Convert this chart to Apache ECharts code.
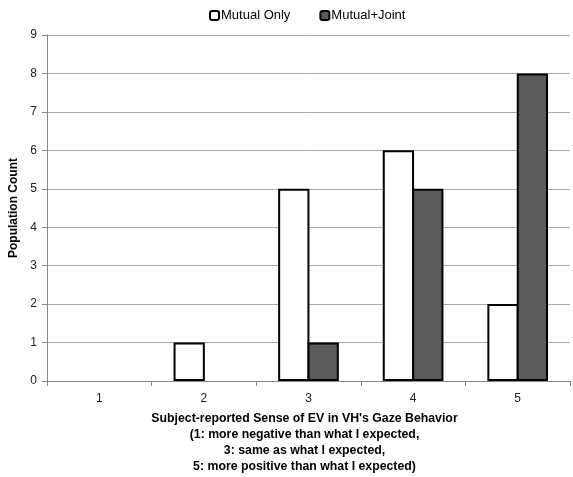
<!DOCTYPE html>
<html><head><meta charset="utf-8">
<script src="https://cdn.jsdelivr.net/npm/echarts@6/dist/echarts.min.js"></script>
<style>html,body{margin:0;padding:0;background:#fff}#c{width:573px;height:477px}</style>
</head><body><div id="c"></div>
<script>
const categories = ['1','2','3','4','5'];
const mutualOnly = [0, 1, 5, 6, 2];
const mutualJoint = [0, 0, 1, 5, 8];
const seriesNames = ['Mutual Only', 'Mutual+Joint'];
const xTitle = "Subject-reported Sense of EV in VH's Gaze Behavior\n(1: more negative than what I expected,\n3: same as what I expected,\n5: more positive than what I expected)";
const yTitle = 'Population Count';

const chart = echarts.init(document.getElementById('c'));
const font = 'Liberation Sans, Arial, sans-serif';
const toItems = arr => arr.map(v => ({value: v, itemStyle: {borderWidth: v === 0 ? 0 : 2}}));
chart.setOption({
  animation: false,
  textStyle: {fontFamily: font},
  legend: {
    top: 4, left: 204, itemWidth: 9, itemHeight: 9, itemGap: 29,
    textStyle: {fontSize: 13, color: '#000', fontFamily: font, padding: [0, 0, 0, -3]},
    data: seriesNames.map(n => ({name: n, itemStyle: {borderColor: '#000', borderWidth: 2}}))
  },
  grid: {left: 47, right: 3, top: 35, bottom: 96, outerBoundsMode: 'none', containLabel: false},
  xAxis: {
    type: 'category', data: categories,
    name: xTitle, nameLocation: 'middle', nameGap: 30,
    nameTextStyle: {fontSize: 12.3, fontWeight: 'bold', color: '#000', lineHeight: 16, fontFamily: font, padding: [0, 8, 0, 0]},
    axisLine: {lineStyle: {color: '#888', width: 1}},
    axisTick: {show: true, alignWithLabel: false, length: 5, lineStyle: {color: '#888'}},
    axisLabel: {fontSize: 12, color: '#222', margin: 12, fontFamily: font}
  },
  yAxis: {
    type: 'value', min: 0, max: 9, interval: 1,
    name: yTitle, nameLocation: 'middle', nameGap: 22,
    nameTextStyle: {fontSize: 12, fontWeight: 'bold', color: '#000', fontFamily: font},
    axisLine: {show: true, lineStyle: {color: '#888'}},
    axisTick: {show: true, length: 5, lineStyle: {color: '#888'}},
    axisLabel: {fontSize: 12, color: '#222', margin: 10, fontFamily: font},
    splitLine: {lineStyle: {color: '#aaa', width: 1}}
  },
  series: [
    {name: seriesNames[0], type: 'bar', data: toItems(mutualOnly), barGap: '-6%', barCategoryGap: '42%',
     itemStyle: {color: '#fff', borderColor: '#000', borderWidth: 2}},
    {name: seriesNames[1], type: 'bar', data: toItems(mutualJoint),
     itemStyle: {color: '#5a5a5a', borderColor: '#000', borderWidth: 2}}
  ]
});
</script></body></html>
